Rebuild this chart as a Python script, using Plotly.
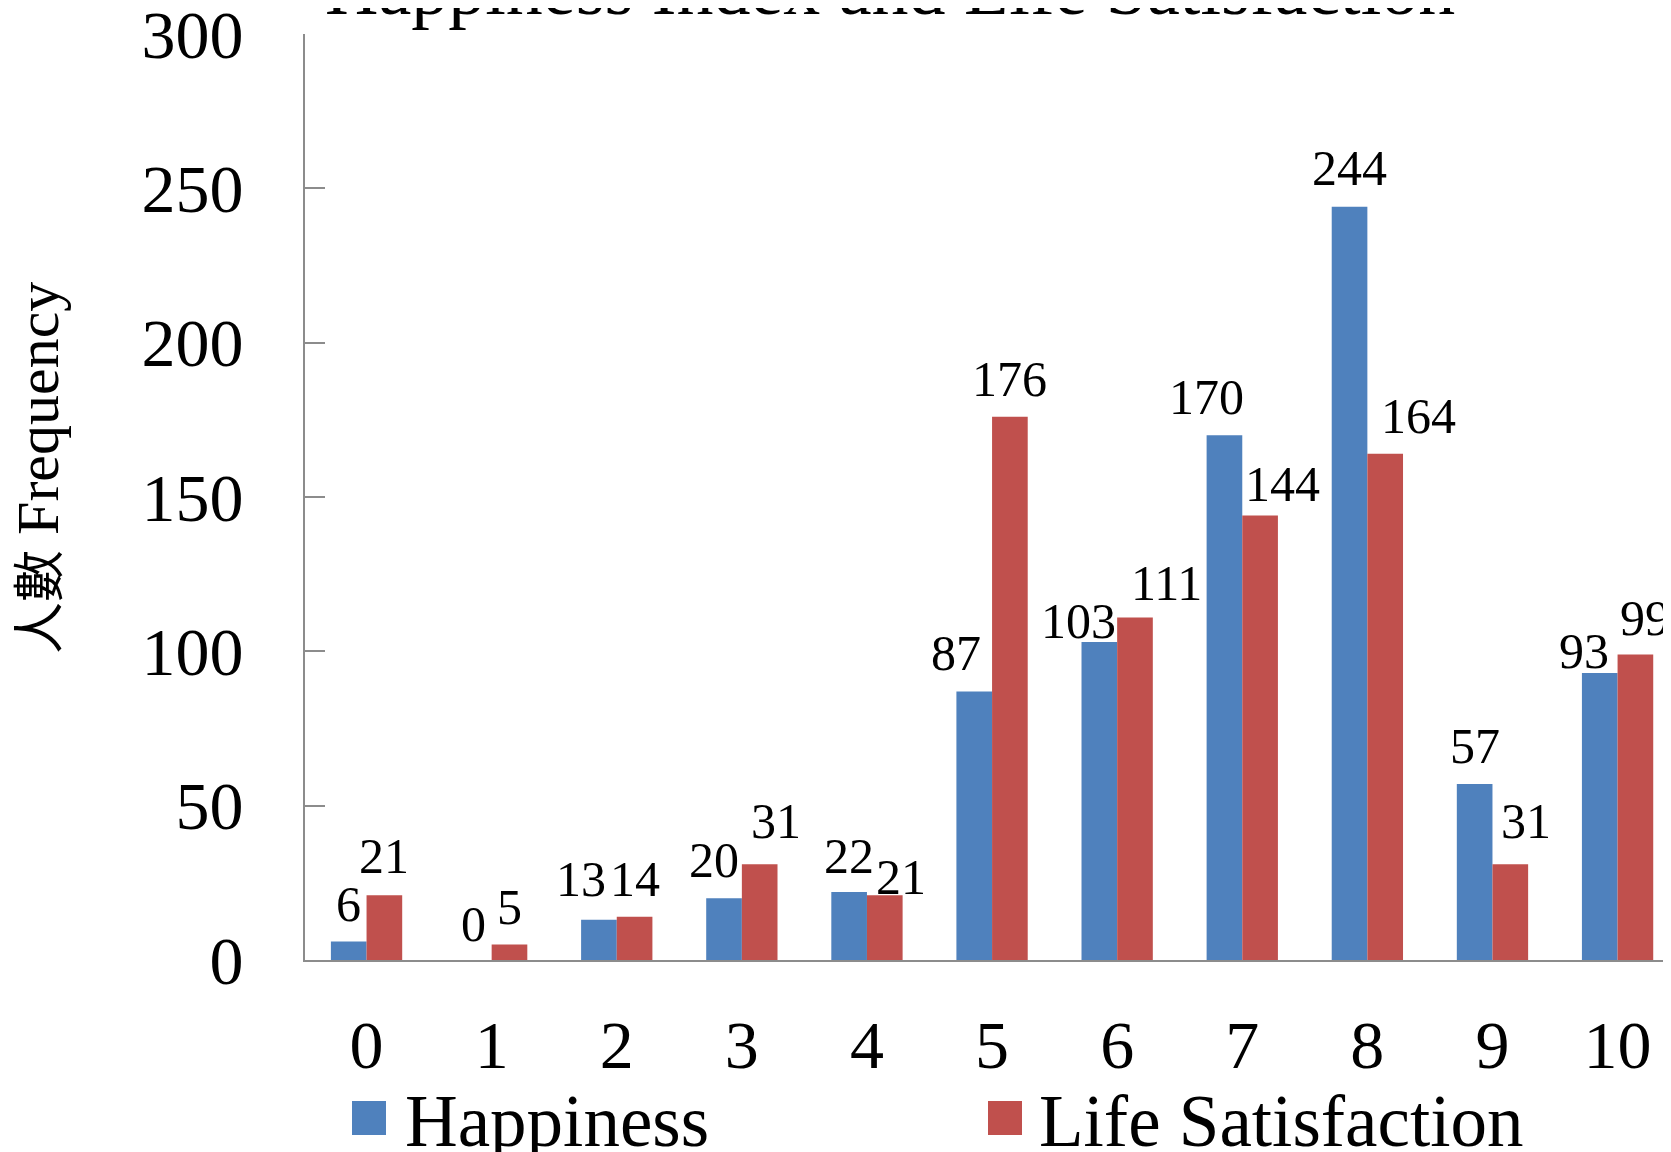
import plotly.graph_objects as go

categories = ["0", "1", "2", "3", "4", "5", "6", "7", "8", "9", "10"]
happiness = [6, 0, 13, 20, 22, 87, 103, 170, 244, 57, 93]
life_satisfaction = [21, 5, 14, 31, 21, 176, 111, 144, 164, 31, 99]
series_names = ["Happiness", "Life Satisfaction"]
y_ticks = [0, 50, 100, 150, 200, 250, 300]

# label style offsets (pixels)
dx_h = [0, 0, -18, -10, 0, -18, -21, -18, 0, 0, -16]
dx_l = [0, 0, 0, 16, 16, 0, 32, 22, 33, 16, 10]
gap_h = [19, 18, 23, 20, 18, 20, 3, 20, 21, 20, 4]
gap_l = [21, 20, 20, 25, 0, 20, 16, 14, 20, 25, 18]

BLUE = "#4F81BD"
RED = "#C0504D"
FONT = "Liberation Serif, Noto Sans CJK TC, serif"

W, H = 1671, 1152
OFF = 8  # page body margin
L, T = 297, 26
B = H - 952
PW, PH = W - L, H - T - B

def px(x):  # screen x -> paper
    return (x - OFF - L) / PW

def py(y):  # screen y -> paper
    return (H - B - (y - OFF)) / PH

fig = go.Figure()
fig.add_trace(go.Bar(x=categories, y=happiness, name=series_names[0],
                     marker=dict(color=BLUE, line=dict(width=0)), showlegend=False))
fig.add_trace(go.Bar(x=categories, y=life_satisfaction, name=series_names[1],
                     marker=dict(color=RED, line=dict(width=0)), showlegend=False))

half = 17.8
annotations = []
for i, c in enumerate(categories):
    annotations.append(dict(x=c, y=happiness[i], xref="x", yref="y", text=str(happiness[i]),
                            showarrow=False, xanchor="center", yanchor="bottom",
                            xshift=-half + dx_h[i], yshift=gap_h[i] - 12,
                            font=dict(family=FONT, size=50, color="black")))
    annotations.append(dict(x=c, y=life_satisfaction[i], xref="x", yref="y", text=str(life_satisfaction[i]),
                            showarrow=False, xanchor="center", yanchor="bottom",
                            xshift=half + dx_l[i], yshift=gap_l[i] - 12,
                            font=dict(family=FONT, size=50, color="black")))

# title
annotations.append(dict(x=px(890), y=py(-11), xref="paper", yref="paper",
                        text="Happiness Index and Life Satisfaction", showarrow=False,
                        xanchor="center", yanchor="middle",
                        font=dict(family=FONT, size=74, color="black")))
# y-axis title
annotations.append(dict(x=px(38), y=py(468), xref="paper", yref="paper",
                        text="<span style='font-size:52px'>人數</span> Frequency",
                        showarrow=False, textangle=-90, xanchor="center", yanchor="middle",
                        font=dict(family=FONT, size=60, color="black")))

# legend (manual)
legend_items = [(series_names[0], BLUE, 352, 403), (series_names[1], RED, 988, 1037)]
shapes = []
for name, col, sx, tx in legend_items:
    shapes.append(dict(type="rect", xref="paper", yref="paper",
                       x0=px(sx), x1=px(sx + 34), y0=py(1135), y1=py(1101),
                       fillcolor=col, line=dict(width=0)))
    annotations.append(dict(x=px(tx), y=py(1121), xref="paper", yref="paper", text=name,
                            showarrow=False, xanchor="left", yanchor="middle",
                            font=dict(family=FONT, size=73, color="black")))

fig.update_layout(
    width=W, height=H,
    margin=dict(l=L, r=0, t=T, b=B, autoexpand=False),
    paper_bgcolor="white", plot_bgcolor="white",
    barmode="group", bargap=0.43, bargroupgap=0,
    annotations=annotations, shapes=shapes,
    font=dict(family=FONT, color="black"),
)
fig.update_xaxes(type="category", range=[-0.492, 10.491], showgrid=False, zeroline=False,
                 showline=True, linecolor="#8c8c8c", linewidth=2, ticks="",
                 tickfont=dict(family=FONT, size=68, color="black"), ticklabelstandoff=24,
                 ticklabeloverflow="allow", automargin=False)
fig.update_yaxes(range=[0, 300], tickvals=y_ticks, showgrid=False, zeroline=False,
                 showline=True, linecolor="#8c8c8c", linewidth=2,
                 ticks="inside", ticklen=20, tickcolor="#8c8c8c", tickwidth=2,
                 tickfont=dict(family=FONT, size=68, color="black"), ticklabelstandoff=46,
                 ticklabeloverflow="allow", automargin=False)

fig.write_html("out.html")
